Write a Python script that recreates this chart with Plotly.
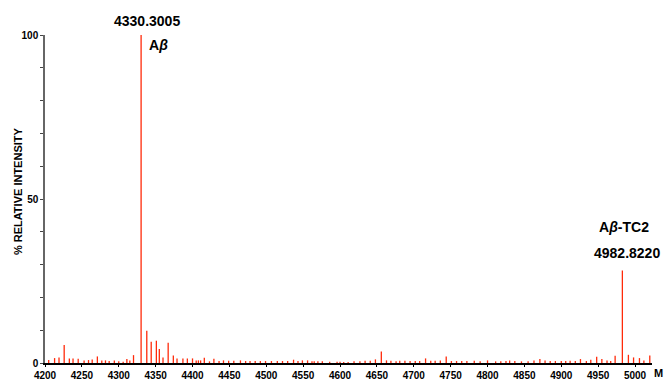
import plotly.graph_objects as go

# m/z positions and % relative intensities
mz = [4205, 4213, 4219, 4226, 4233, 4238, 4245, 4253, 4259, 4264, 4271, 4277, 4282, 4287, 4294,
      4300, 4306, 4311, 4315, 4320, 4330.3005, 4338, 4344, 4351, 4355, 4360, 4367, 4374, 4379,
      4387, 4393, 4400, 4405, 4408, 4411, 4416, 4423, 4429, 4436, 4442, 4449, 4456, 4465, 4472,
      4478, 4485, 4492, 4499, 4507, 4515, 4522, 4529, 4537, 4543, 4549, 4556, 4562, 4565, 4570,
      4576, 4586, 4596, 4600, 4605, 4611, 4619, 4627, 4634, 4641, 4648, 4656, 4663, 4669, 4676,
      4681, 4688, 4695, 4702, 4708, 4716, 4723, 4729, 4736, 4744, 4751, 4758, 4765, 4772, 4782,
      4790, 4800, 4811, 4818, 4825, 4830, 4837, 4846, 4855, 4863, 4871, 4878, 4885, 4892, 4900,
      4906, 4912, 4919, 4926, 4934, 4940, 4948, 4955, 4962, 4967, 4973, 4982.8220, 4991, 4998,
      5006, 5012, 5020]
intensity = [0.9, 1.5, 1.7, 5.5, 1.4, 1.4, 1.3, 0.8, 0.9, 1.1, 2.0, 0.8, 0.8, 0.6, 0.8,
             0.5, 0.4, 1.2, 0.8, 2.4, 100, 9.8, 6.5, 6.8, 4.3, 1.7, 6.2, 2.3, 1.4,
             1.4, 1.4, 1.4, 0.8, 0.8, 0.8, 1.6, 0.5, 1.3, 0.6, 0.8, 0.7, 0.7, 0.8, 0.6,
             0.6, 0.6, 0.6, 0.6, 0.6, 0.6, 0.6, 0.6, 1.0, 0.6, 0.8, 0.8, 0.5, 0.5, 0.5,
             0.5, 0.4, 0.4, 0.4, 0.3, 0.3, 0.5, 0.5, 0.7, 0.7, 1.1, 3.5, 0.8, 0.7, 0.5,
             0.7, 0.7, 0.6, 0.6, 0.6, 1.4, 0.7, 0.7, 0.8, 2.0, 0.6, 0.6, 0.6, 0.6, 0.7,
             0.5, 0.8, 0.5, 0.5, 0.6, 0.8, 0.6, 0.5, 0.5, 0.8, 1.2, 0.8, 0.6, 0.6, 0.6,
             0.6, 0.7, 0.6, 1.2, 0.6, 1.0, 1.9, 1.2, 0.8, 0.6, 2.2, 28.2, 2.5, 1.7,
             1.5, 0.8, 2.3]

x_ticks = [4200, 4250, 4300, 4350, 4400, 4450, 4500, 4550, 4600, 4650, 4700, 4750,
           4800, 4850, 4900, 4950, 5000]
y_ticks = [0, 10, 20, 30, 40, 50, 60, 70, 80, 90, 100]
y_ticktext = ["0", "", "", "", "", "50", "", "", "", "", "100"]

peak_mz = [4330.3005, 4982.8220]
peak_int = [100, 28.2]
peak_mass_text = ["4330.3005", "4982.8220"]
peak_name_text = ["A<i>β</i>", "A<i>β</i>-TC2"]

# stick spectrum built from the arrays
xs, ys = [], []
for m, h in zip(mz, intensity):
    xs += [m, m, None]
    ys += [0, h, None]

fig = go.Figure()
fig.add_trace(go.Scatter(x=xs, y=ys, mode="lines",
                         line=dict(color="#ff2a0a", width=1.3),
                         hoverinfo="skip", showlegend=False))

sans = "Liberation Sans, Arial, sans-serif"

ann = []
# Aβ peak
ann.append(dict(x=peak_mz[0], y=peak_int[0], xref="x", yref="y", text=peak_mass_text[0],
                showarrow=False, xanchor="center", yanchor="middle", xshift=6, yshift=14,
                font=dict(family=sans, size=14, color="black", weight="bold")))
ann.append(dict(x=peak_mz[0], y=peak_int[0], xref="x", yref="y", text=peak_name_text[0],
                showarrow=False, xanchor="left", yanchor="middle", xshift=6, yshift=-10,
                font=dict(family=sans, size=14, color="black", weight="bold")))
# Aβ-TC2 peak
ann.append(dict(x=peak_mz[1], y=peak_int[1], xref="x", yref="y", text=peak_name_text[1],
                showarrow=False, xanchor="center", yanchor="middle", xshift=2, yshift=44,
                font=dict(family=sans, size=14, color="black", weight="bold")))
ann.append(dict(x=peak_mz[1], y=peak_int[1], xref="x", yref="y", text=peak_mass_text[1],
                showarrow=False, xanchor="center", yanchor="middle", xshift=5, yshift=18,
                font=dict(family=sans, size=14, color="black", weight="bold")))
# axis titles
ann.append(dict(x=-0.044, y=0.525, xref="paper", yref="paper", text="% RELATIVE INTENSITY",
                showarrow=False, textangle=-90, xanchor="center", yanchor="middle",
                font=dict(family=sans, size=11, color="black", weight="bold")))
ann.append(dict(x=1.01, y=-0.056, xref="paper", yref="paper", text="M",
                showarrow=False, xanchor="center", yanchor="bottom",
                font=dict(family=sans, size=11, color="black", weight="bold")))

fig.update_layout(
    width=669, height=383,
    margin=dict(l=45, r=17, t=35, b=20, autoexpand=False),
    paper_bgcolor="white", plot_bgcolor="white",
    annotations=ann,
    xaxis=dict(range=[4200, 5023], tickvals=x_ticks, showgrid=False, zeroline=False,
               automargin=False,
               showline=True, linecolor="black", linewidth=1.5,
               ticks="outside", ticklen=2, tickcolor="black",
               tickfont=dict(family=sans, size=10, color="black", weight="bold")),
    yaxis=dict(range=[0, 100], tickvals=y_ticks, ticktext=y_ticktext, showgrid=False,
               automargin=False,
               zeroline=False, showline=True, linecolor="#666666", linewidth=1.5,
               ticks="outside", ticklen=3, tickcolor="#444444",
               tickfont=dict(family=sans, size=10, color="black", weight="bold")),
)

fig.write_html("out.html", config={"displayModeBar": False},
               post_script="document.body.style.margin='0';")
